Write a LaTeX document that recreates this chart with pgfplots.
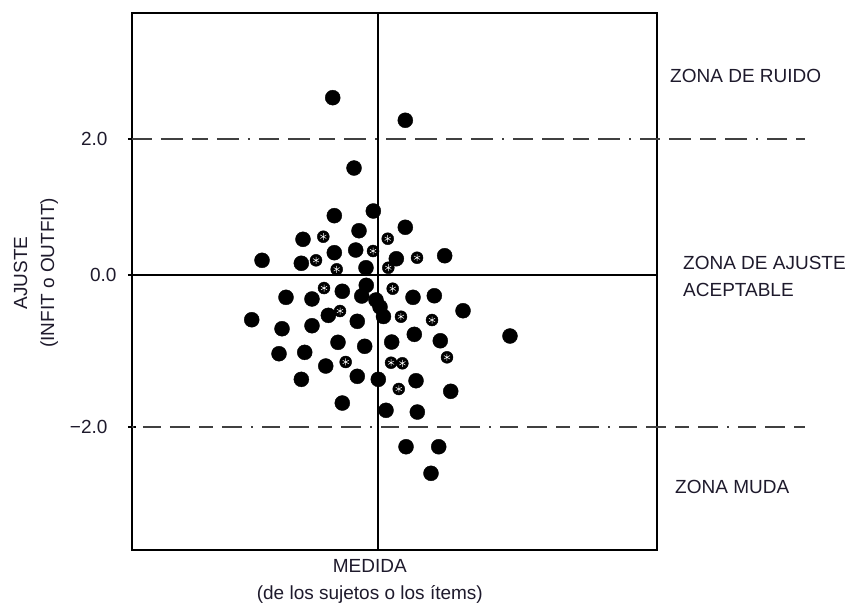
\documentclass[border=0pt]{standalone}
\usepackage{pgfplots}
\pgfplotsset{compat=1.18}
\usepackage{fontspec}
\setmainfont{Liberation Sans}
\definecolor{txt}{HTML}{1E1A2C}
\definecolor{dashc}{HTML}{404040}

% solid points (x = measure, y = fit)
\pgfplotstableread{
x y
-0.629 2.463
0.379 2.149
-0.333 1.486
-0.607 0.824
-0.065 0.889
-0.264 0.615
0.379 0.663
-1.042 0.496
-1.611 0.204
-1.065 0.163
-0.607 0.310
-0.310 0.347
0.254 0.226
0.926 0.268
-0.167 0.101
-1.278 -0.310
-0.917 -0.333
-0.496 -0.226
-0.226 -0.292
-0.163 -0.143
-0.028 -0.347
0.028 -0.444
0.076 -0.576
0.486 -0.310
0.782 -0.288
1.181 -0.496
-1.754 -0.621
-1.333 -0.746
-0.917 -0.704
-0.690 -0.560
-0.288 -0.643
0.504 -0.824
0.865 -0.913
-0.556 -0.935
-0.185 -0.990
0.190 -0.931
-1.375 -1.093
-1.018 -1.074
-0.726 -1.264
-1.065 -1.449
-0.288 -1.407
0.004 -1.449
0.528 -1.468
1.010 -1.615
-0.496 -1.778
0.111 -1.879
0.546 -1.903
0.389 -2.385
0.843 -2.385
0.736 -2.754
1.833 -0.847
}\solidpts

% speckled points
\pgfplotstableread{
x y
-0.760 0.532
0.135 0.504
-0.861 0.204
-0.069 0.333
0.542 0.240
-0.574 0.079
0.143 0.101
-0.750 -0.181
0.204 -0.190
-0.528 -0.500
0.319 -0.579
0.750 -0.625
0.958 -1.143
-0.449 -1.208
0.181 -1.218
0.338 -1.226
0.288 -1.583
}\speckpts

\begin{document}
\fontsize{19}{27}\selectfont
\begin{tikzpicture}
\useasboundingbox (-132pt,-55pt) rectangle (719pt,550pt);
\begin{axis}[
  at={(0,0)}, anchor=south west,
  scale only axis, width=525pt, height=537pt,
  xmin=-3.417, xmax=3.875, ymin=-3.819, ymax=3.639,
  axis line style={line width=1.6pt, black},
  xtick=\empty,
  ytick={-2.111,0,1.889},
  yticklabels={−2.0,0.0\kern-9pt,2.0},
  ytick pos=left,
  tick align=center, major tick length=8pt,
  tick style={line width=1.2pt, black},
  yticklabel style={font=\fontsize{19}{23}\selectfont, text=txt, xshift=-14pt},
  xlabel={MEDIDA\\(de los sujetos o los ítems)},
  xlabel style={at={(axis description cs:0.453,-0.0577)}, anchor=center, align=center,
    font=\fontsize{19}{27}\selectfont, text=txt},
  ylabel={AJUSTE\\(INFIT o OUTFIT)},
  ylabel style={at={(axis description cs:-0.183,0.516)}, anchor=center, align=center,
    font=\fontsize{19}{27}\selectfont, text=txt},
  clip=false,
]
% reference lines
\addplot[dashc, line width=1.3pt, dash pattern=on 20pt off 9pt on 22pt off 9pt on 16pt off 9pt on 22pt off 9pt on 2pt off 9pt]
  coordinates {(-3.417,1.889) (5.931,1.889)};
\addplot[dashc, line width=1.3pt, dash pattern=on 2pt off 9pt on 18pt off 9pt on 20pt off 9pt on 14pt off 9pt on 20pt off 9pt]
  coordinates {(-3.417,-2.111) (5.931,-2.111)};
\addplot[black, line width=2.2pt] coordinates {(-3.417,0) (3.875,0)};
\addplot[black, line width=1.3pt] coordinates {(0,-3.819) (0,3.639)};
% points
\addplot[only marks, mark=*, mark size=7.5pt, mark options={draw=black, fill=black}]
  table[x=x, y=y] {\solidpts};
\addplot[only marks, mark=*, mark size=6pt, mark options={draw=black, fill=black}]
  table[x=x, y=y] {\speckpts};
\addplot[only marks, mark=asterisk, mark size=3.5pt, mark options={draw=white, line width=0.5pt}]
  table[x=x, y=y] {\speckpts};
% zone labels
\node[anchor=west, inner sep=0pt, text=txt, font=\fontsize{19}{27}\selectfont] at (axis cs:4.056,2.768) {ZONA DE RUIDO};
\node[anchor=west, inner sep=0pt, align=left, text=txt, font=\fontsize{19}{27}\selectfont] at (axis cs:4.236,-0.021) {ZONA DE AJUSTE\\ACEPTABLE};
\node[anchor=west, inner sep=0pt, text=txt, font=\fontsize{19}{27}\selectfont] at (axis cs:4.125,-2.940) {ZONA MUDA};
\end{axis}
\end{tikzpicture}
\end{document}
